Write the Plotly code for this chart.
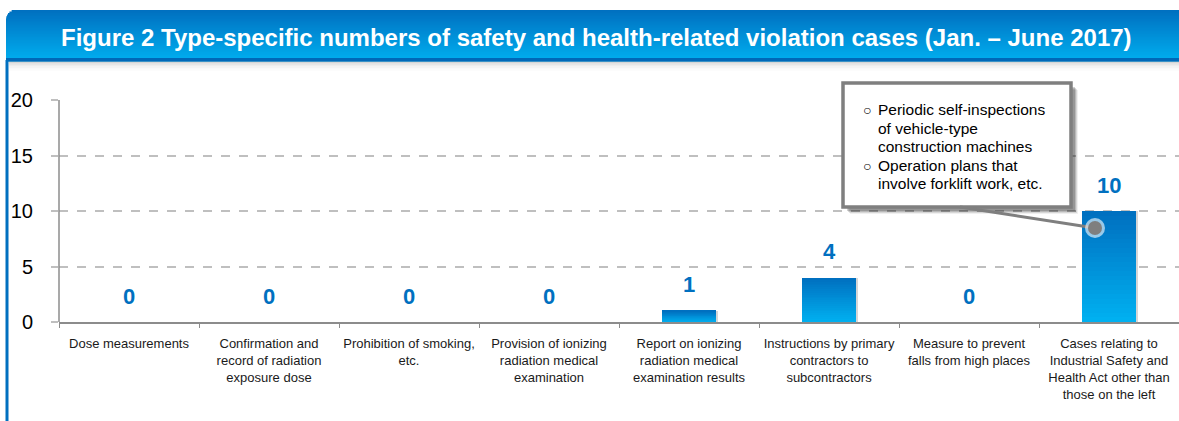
import math
import plotly.graph_objects as go

categories = [
    "Dose measurements",
    "Confirmation and<br>record of radiation<br>exposure dose",
    "Prohibition of smoking,<br>etc.",
    "Provision of ionizing<br>radiation medical<br>examination",
    "Report on ionizing<br>radiation medical<br>examination results",
    "Instructions by primary<br>contractors to<br>subcontractors",
    "Measure to prevent<br>falls from high places",
    "Cases relating to<br>Industrial Safety and<br>Health Act other than<br>those on the left",
]
values = [0, 0, 0, 0, 1, 4, 0, 10]
y_ticks = [0, 5, 10, 15, 20]
title_text = "Figure 2 Type-specific numbers of safety and health-related violation cases (Jan. – June 2017)"
callout_lines = [
    ("○", "Periodic self-inspections"),
    ("", "of vehicle-type"),
    ("", "construction machines"),
    ("○", "Operation plans that"),
    ("", "involve forklift work, etc."),
]

W, H = 1179, 421
ML, MR, MT, MB = 59, 0, 100, 99
PW, PH = W - ML - MR, H - MT - MB
FONT = "Liberation Sans, Arial, sans-serif"


def px_x(px):
    return (px - ML) / PW


def px_y(py):
    return (H - MB - py) / PH


def lerp_color(c1, c2, t):
    r = round(c1[0] + (c2[0] - c1[0]) * t)
    g = round(c1[1] + (c2[1] - c1[1]) * t)
    b = round(c1[2] + (c2[2] - c1[2]) * t)
    return f"rgb({r},{g},{b})"


fig = go.Figure()

bar_w = 0.39
# shadow behind bars
fig.add_trace(go.Bar(
    x=categories, y=values, width=bar_w + 0.012, offset=-bar_w / 2 + 2 / PW,
    marker=dict(color="rgba(0,0,0,0.16)", line=dict(width=0)),
    hoverinfo="skip", showlegend=False,
))
# gradient bars (stacked slices of each value)
N = 24
light = (0, 176, 240)
dark = (0, 112, 192)
for i in range(N):
    fig.add_trace(go.Bar(
        x=categories,
        y=[v / N for v in values],
        base=[v * i / N for v in values],
        width=bar_w,
        marker=dict(color=lerp_color(light, dark, i / (N - 1)), line=dict(width=0)),
        hoverinfo="skip", showlegend=False,
    ))

# value labels
for c, v in zip(categories, values):
    fig.add_annotation(
        x=c, y=v, xref="x", yref="y", text=str(v), showarrow=False,
        yshift=26, yanchor="middle",
        font=dict(family=FONT, size=22, color="#0070C0", weight="bold"),
    )

shapes = []
# title banner gradient with rounded top-left corner
bt, bb = 10, 61
steps = 34
rad = 10
for i in range(steps):
    y0 = bt + (bb - bt) * i / steps
    y1 = bt + (bb - bt) * (i + 1) / steps + 0.5
    dy = (y0 + y1) / 2 - bt
    inset = rad - math.sqrt(max(rad ** 2 - (rad - dy) ** 2, 0)) if dy < rad else 0
    shapes.append(dict(
        type="rect", xref="paper", yref="paper",
        x0=px_x(6 + inset), x1=px_x(1180),
        y0=px_y(y0), y1=px_y(y1),
        fillcolor=lerp_color((0, 112, 192), (0, 174, 239), i / (steps - 1)),
        line=dict(width=0), layer="below",
    ))
# banner bottom dark edge
shapes.append(dict(type="rect", xref="paper", yref="paper",
                   x0=px_x(6), x1=px_x(1180), y0=px_y(58), y1=px_y(61.5),
                   fillcolor="#0068B8", line=dict(width=0), layer="below"))
# soft shadow below banner
for i, a in enumerate([0.16, 0.11, 0.07, 0.045, 0.025, 0.01]):
    shapes.append(dict(type="rect", xref="paper", yref="paper",
                       x0=px_x(9), x1=px_x(1180), y0=px_y(61.5 + i * 1.6), y1=px_y(63.1 + i * 1.6),
                       fillcolor=f"rgba(0,0,0,{a})", line=dict(width=0), layer="below"))
# left blue border
shapes.append(dict(type="line", xref="paper", yref="paper",
                   x0=px_x(7), x1=px_x(7), y0=px_y(60), y1=px_y(H),
                   line=dict(color="#0070C0", width=3), layer="below"))
# y axis line (only up to 20)
shapes.append(dict(type="line", xref="paper", yref="y",
                   x0=0, x1=0, y0=0, y1=max(y_ticks),
                   line=dict(color="#8C8C8C", width=1.5), layer="above"))

# callout box shadow and box
bx0, bx1, by0, by1 = 843, 1071, 83, 207
for off, a in [(7, 0.06), (6, 0.1), (5, 0.14), (4, 0.18)]:
    shapes.append(dict(type="rect", xref="paper", yref="paper",
                       x0=px_x(bx0 + off), x1=px_x(bx1 + off),
                       y0=px_y(by0 + off), y1=px_y(by1 + off),
                       fillcolor=f"rgba(0,0,0,{a})", line=dict(width=0), layer="above"))
shapes.append(dict(type="rect", xref="paper", yref="paper",
                   x0=px_x(bx0), x1=px_x(bx1), y0=px_y(by0), y1=px_y(by1),
                   fillcolor="white", line=dict(color="#7F7F7F", width=3.5), layer="above"))
# connector line and dot
shapes.append(dict(type="line", xref="paper", yref="paper",
                   x0=px_x(960), y0=px_y(207), x1=px_x(1095), y1=px_y(228),
                   line=dict(color="#7F7F7F", width=3), layer="above"))
shapes.append(dict(type="circle", xref="paper", yref="paper",
                   x0=px_x(1095 - 10), x1=px_x(1095 + 10), y0=px_y(228 - 10), y1=px_y(228 + 10),
                   fillcolor="rgba(255,255,255,0.6)", line=dict(width=0), layer="above"))
shapes.append(dict(type="circle", xref="paper", yref="paper",
                   x0=px_x(1095 - 7), x1=px_x(1095 + 7), y0=px_y(228 - 7), y1=px_y(228 + 7),
                   fillcolor="#7F7F7F", line=dict(width=0), layer="above"))

# title text
fig.add_annotation(
    xref="paper", yref="paper", x=px_x(596), y=px_y(37.5),
    text=title_text, showarrow=False, xanchor="center", yanchor="middle",
    font=dict(family=FONT, size=24, color="white", weight="bold"),
)

# callout text (one annotation per line for tight spacing)
line_y0, line_dy = 109.5, 18.5
for k, (bullet, txt) in enumerate(callout_lines):
    ly = line_y0 + k * line_dy
    fig.add_annotation(
        xref="paper", yref="paper", x=px_x(876), y=px_y(ly),
        text=txt, showarrow=False, xanchor="left", yanchor="middle",
        align="left", font=dict(family=FONT, size=15.5, color="#000000"),
    )
    if bullet:
        fig.add_annotation(
            xref="paper", yref="paper", x=px_x(867), y=px_y(ly + 1),
            text=bullet, showarrow=False, xanchor="center", yanchor="middle",
            font=dict(family=FONT, size=14, color="#000000"),
        )

fig.update_layout(
    width=W, height=H, autosize=False,
    margin=dict(l=ML, r=MR, t=MT, b=MB, pad=0, autoexpand=False),
    paper_bgcolor="white", plot_bgcolor="white",
    barmode="overlay", bargap=0,
    shapes=shapes,
    font=dict(family=FONT, color="#1A1A1A"),
    xaxis=dict(
        type="category", categoryorder="array", categoryarray=categories,
        showline=True, linecolor="#8C8C8C", linewidth=1.5,
        ticks="outside", tickson="boundaries", ticklen=4, tickcolor="#8C8C8C",
        tickfont=dict(family=FONT, size=13, color="#1A1A1A"), tickangle=0,
        ticklabelstandoff=9,
        showgrid=False, range=[-0.5, len(categories) - 0.5], fixedrange=True,
        automargin=False,
    ),
    yaxis=dict(
        range=[0, 20], tickvals=y_ticks, ticktext=[str(t) for t in y_ticks],
        showgrid=True, gridcolor="#BFBFBF", griddash="dash", gridwidth=1.5,
        ticks="outside", ticklen=7, tickcolor="#BFBFBF", tickwidth=1.5,
        tickfont=dict(family=FONT, size=20, color="#000000"),
        ticklabelstandoff=14, showline=False, zeroline=False, fixedrange=True,
        automargin=False,
    ),
)

fig.write_html(
    "out.html",
    config={"displayModeBar": False},
    post_script="document.body.style.margin='0';document.body.style.overflow='hidden';",
)
